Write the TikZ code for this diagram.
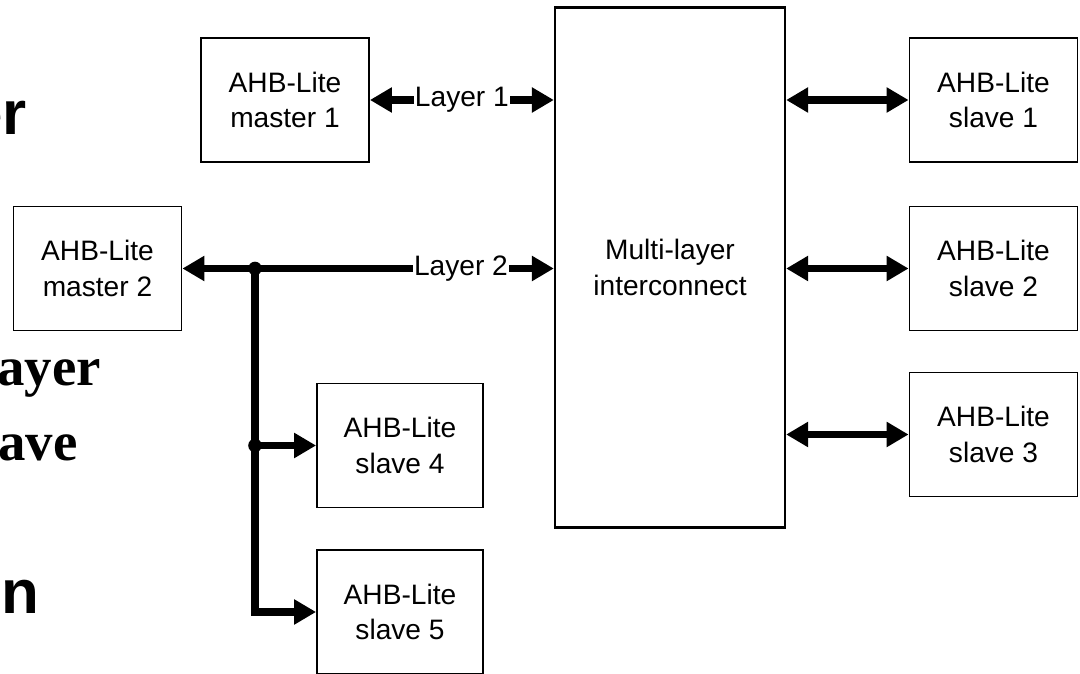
\documentclass[tikz,border=0pt]{standalone}
\usepackage{fontspec}
\setmainfont{Liberation Sans}
\newfontfamily\slideserif{Liberation Serif}
\usetikzlibrary{arrows.meta,positioning}

\begin{document}
\begin{tikzpicture}[x=0.025cm, y=-0.025cm,
    >={Triangle[length=0.55cm,width=0.6cm]},
    blk/.style={draw, line width=1.3pt, minimum width=4.2cm, minimum height=3.1cm,
      align=center, inner sep=0pt, font=\fontsize{20}{25}\selectfont},
    bus/.style={line width=5pt},
    lbl/.style={fill=white, inner sep=1pt, anchor=center, font=\fontsize{20}{24}\selectfont},
    slide/.style={anchor=base east, inner sep=0pt, font=\fontsize{44}{50}\selectfont\bfseries},
    slideb/.style={anchor=base east, inner sep=0pt, font=\fontsize{39}{45}\selectfont\slideserif\bfseries}]
      \useasboundingbox (0,0) rectangle (1080,674);
      % cut-off slide text on the left
      \node [slide] (t1) at (27,135) {er};
      \node [slideb] (t2) at (101,386) {ayer};
      \node [slideb] (t3) at (78,461) {ave};
      \node [slide] (t4) at (40,614) {en};
      % masters, slaves and the interconnect
      \node [blk] (m1) at (285,100) {AHB-Lite\\master 1};
      \node [blk] (m2) at (97.5,268.5) {AHB-Lite\\master 2};
      \node [blk, minimum width=5.75cm, minimum height=13cm, line width=1.6pt] (ic) at (670,267.5) {Multi-layer\\interconnect};
      \node [blk] (s1) at (993.5,100) {AHB-Lite\\slave 1};
      \node [blk] (s2) at (993.5,268.5) {AHB-Lite\\slave 2};
      \node [blk] (s3) at (993.5,434.5) {AHB-Lite\\slave 3};
      \node [blk, minimum width=4.15cm] (s4) at (400,445.5) {AHB-Lite\\slave 4};
      \node [blk, minimum width=4.15cm] (s5) at (400,612) {AHB-Lite\\slave 5};
      \coordinate (j1) at (255,268.5);
      \coordinate (j2) at (255,445.5);
      % layers
      \draw [bus, <->] (m1.east) to node [lbl] {Layer 1} (m1 -| ic.west);
      \draw [bus, <->] (m2.east) to node [lbl, pos=.75] {Layer 2} (m2 -| ic.west);
      \draw [bus, ->] (j1) |- (s5.west);
      \draw [bus, ->] (j2) -- (s4.west);
      \fill (j1) circle [radius=0.17cm];
      \fill (j2) circle [radius=0.17cm];
      % slave ports
      \draw [bus, <->] (s1 -| ic.east) to (s1.west);
      \draw [bus, <->] (s2 -| ic.east) to (s2.west);
      \draw [bus, <->] (s3 -| ic.east) to (s3.west);
\end{tikzpicture}
\end{document}
